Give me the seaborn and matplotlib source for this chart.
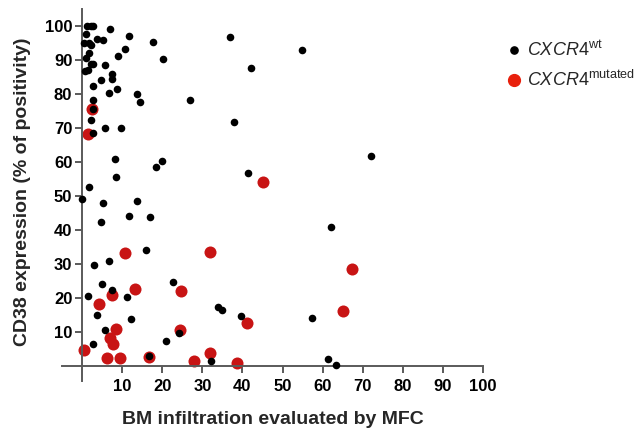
import matplotlib
matplotlib.use("Agg")
import matplotlib.pyplot as plt
import seaborn as sns
import pandas as pd
from matplotlib.lines import Line2D

# ---- data ----
wt_x = [1.3, 2.2, 2.8, 7.0, 1.0, 3.7, 5.2, 11.8, 17.6, 36.8, 54.75, 0.5, 1.8, 2.3,
        10.8, 20.3, 8.9, 1.8, 0.9, 0.8, 1.6, 2.2, 2.8, 5.75, 7.5, 7.5, 4.8, 2.8,
        8.75, 6.75, 13.6, 14.5, 2.8, 2.7, 2.3, 2.8, 5.6, 9.75, 26.8, 42.25, 38.0,
        72.1, 41.3, 8.25, 19.9, 18.5, 8.4, 1.75, 0.1, 5.3, 13.8, 11.8, 16.9, 4.8,
        16.0, 3.0, 6.7, 4.9, 1.6, 7.5, 11.3, 3.8, 12.2, 5.75, 2.7, 16.8, 22.8,
        33.9, 34.9, 39.75, 24.1, 20.9, 32.25, 62.2, 57.3, 61.4, 63.4]
wt_y = [100, 100, 100, 99, 97.5, 96.3, 96, 97, 95.3, 96.7, 92.8, 95, 95, 94.3,
        93.3, 90.4, 91.2, 92.2, 90.5, 86.7, 87.2, 88.9, 88.7, 88.5, 86, 84.4, 84.2, 82.5,
        81.5, 80.2, 80.1, 77.6, 78.3, 75.6, 72.5, 68.5, 70, 70, 78.3, 87.6, 71.8,
        61.9, 56.7, 60.9, 60.4, 58.4, 55.7, 52.7, 49, 48, 48.6, 44.2, 43.9, 42.4,
        34.2, 29.6, 30.8, 24.1, 20.6, 22.3, 20.2, 15.1, 13.9, 10.5, 6.5, 3.1, 24.7,
        17.3, 16.4, 14.7, 9.7, 7.3, 1.5, 40.8, 14.2, 2.2, 0.4]

mut_x = [2.5, 1.6, 45.25, 10.6, 31.8, 7.5, 13.1, 4.3, 24.8, 8.4, 7.0, 7.7, 0.5,
         6.3, 9.5, 16.75, 24.5, 41.2, 27.8, 31.8, 38.75, 67.3, 65.1]
mut_y = [75.6, 68.2, 54.0, 33.3, 33.6, 20.8, 22.7, 18.3, 22.2, 10.8, 8.2, 6.5, 4.6,
         2.3, 2.3, 2.6, 10.7, 12.7, 1.6, 3.9, 0.8, 28.5, 16.2]

ticks = [10, 20, 30, 40, 50, 60, 70, 80, 90, 100]
xlabel = "BM infiltration evaluated by MFC"
ylabel = "CD38 expression (% of positivity)"
labels = [r"$\mathit{CXCR4}^{\mathrm{wt}}$", r"$\mathit{CXCR4}^{\mathrm{mutated}}$"]

# ---- style ----
sns.set_style("ticks")
plt.rcParams["font.family"] = ["Liberation Sans", "DejaVu Sans"]
plt.rcParams["mathtext.fontset"] = "custom"
plt.rcParams["mathtext.rm"] = "Liberation Sans"
plt.rcParams["mathtext.it"] = "Liberation Sans:italic"

axis_col = "#5a5a5a"
red = "#C81414"

fig = plt.figure(figsize=(6.36, 4.28), dpi=100)
ax = fig.add_axes([0.0975, 0.109, 0.6619, 0.870])

df_wt = pd.DataFrame({"x": wt_x, "y": wt_y})
df_mut = pd.DataFrame({"x": mut_x, "y": mut_y})

sns.scatterplot(data=df_mut, x="x", y="y", ax=ax, color=red, s=75,
                linewidth=0, zorder=2, legend=False)
sns.scatterplot(data=df_wt, x="x", y="y", ax=ax, color="black", s=30,
                linewidth=0, zorder=3, legend=False)

ax.set_xlim(-5, 100)
ax.set_ylim(-4.5, 105)
ax.spines["left"].set_position(("data", 0))
ax.spines["bottom"].set_position(("data", 0))
for s in ["top", "right"]:
    ax.spines[s].set_visible(False)
for s in ["left", "bottom"]:
    ax.spines[s].set_color(axis_col)
    ax.spines[s].set_linewidth(1.4)

ax.set_xticks(ticks)
ax.set_yticks(ticks)
ax.set_xticklabels([str(t) for t in ticks])
ax.set_yticklabels([str(t) for t in ticks])
ax.tick_params(axis="both", colors=axis_col, width=1.4, length=5,
               labelcolor="black", labelsize=12)
ax.tick_params(axis="x", pad=4)
ax.tick_params(axis="y", pad=2)
for lab in ax.get_xticklabels() + ax.get_yticklabels():
    lab.set_fontweight("bold")

ax.set_xlabel("")
ax.set_ylabel("")
fig.text(0.4285, 0.0095, xlabel, ha="center", va="baseline",
         fontsize=14, fontweight="bold")
fig.text(0.035, 0.551, ylabel, ha="center", va="center", rotation=90,
         fontsize=14, fontweight="bold")

handles = [
    Line2D([], [], marker="o", linestyle="", color="black", markersize=5.2),
    Line2D([], [], marker="o", linestyle="", color="#E8200C", markersize=8.5),
]
fig.legend(handles, labels, loc="upper left", bbox_to_anchor=(0.782, 0.922),
           frameon=False, fontsize=13, handletextpad=0.25, labelspacing=0.55,
           handlelength=1.0, borderaxespad=0)

fig.savefig("out.png", dpi=100)
